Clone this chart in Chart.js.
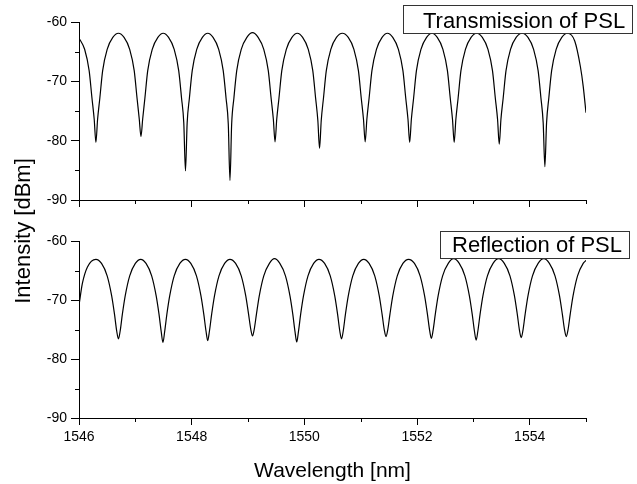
<!DOCTYPE html>
<html>
<head>
<meta charset="utf-8">
<script src="https://cdn.jsdelivr.net/npm/chart.js@4.4.0/dist/chart.umd.min.js"></script>
<style>
  body { margin: 0; background: #fff; }
  #wrap { position: relative; width: 637px; height: 484px; }
  #wrap canvas { position: absolute; left: 0; top: 0; }
</style>
</head>
<body>
<div id="wrap">
  <canvas id="transChart" width="637" height="484"></canvas>
  <canvas id="reflChart" width="637" height="484"></canvas>
</div>
<script>
// one row per fringe
var transWl = [
  1546.00, 1546.10, 1546.18, 1546.23, 1546.27, 1546.30, 1546.33, 1546.37, 1546.42, 1546.50, 1546.60,
  1546.70, 1546.80, 1546.90, 1546.98, 1547.03, 1547.07, 1547.10, 1547.13, 1547.17, 1547.22, 1547.30, 1547.40,
  1547.495, 1547.59, 1547.69, 1547.77, 1547.82, 1547.86, 1547.89, 1547.92, 1547.96, 1548.01, 1548.09, 1548.19,
  1548.285, 1548.38, 1548.48, 1548.56, 1548.61, 1548.65, 1548.68, 1548.71, 1548.75, 1548.80, 1548.88, 1548.98,
  1549.08, 1549.18, 1549.28, 1549.36, 1549.41, 1549.45, 1549.48, 1549.51, 1549.55, 1549.60, 1549.68, 1549.78,
  1549.875, 1549.97, 1550.07, 1550.15, 1550.20, 1550.24, 1550.27, 1550.30, 1550.34, 1550.39, 1550.47, 1550.57,
  1550.675, 1550.78, 1550.88, 1550.96, 1551.01, 1551.05, 1551.08, 1551.11, 1551.15, 1551.20, 1551.28, 1551.38,
  1551.475, 1551.57, 1551.67, 1551.75, 1551.80, 1551.84, 1551.87, 1551.90, 1551.94, 1551.99, 1552.07, 1552.17,
  1552.265, 1552.36, 1552.46, 1552.54, 1552.59, 1552.63, 1552.66, 1552.69, 1552.73, 1552.78, 1552.86, 1552.96,
  1553.06, 1553.16, 1553.26, 1553.34, 1553.39, 1553.43, 1553.46, 1553.49, 1553.53, 1553.58, 1553.66, 1553.76,
  1553.865, 1553.97, 1554.07, 1554.15, 1554.20, 1554.24, 1554.27, 1554.30, 1554.34, 1554.39, 1554.47, 1554.57,
  1554.67, 1554.80, 1554.90, 1554.95, 1555.00
];
var transDb = [
  -62.7, -64.6, -68.2, -72.8, -76.4, -80.3, -76.4, -72.8, -68.2, -64.6, -62.6,
  -61.9, -62.6, -64.6, -68.2, -72.8, -76.4, -79.3, -76.4, -72.8, -68.2, -64.6, -62.6,
  -61.9, -62.6, -64.6, -68.2, -72.8, -77.0, -85.1, -77.0, -72.8, -68.2, -64.6, -62.6,
  -61.9, -62.6, -64.6, -68.2, -72.8, -77.2, -86.7, -77.2, -72.8, -68.2, -64.6, -62.6,
  -61.8, -62.6, -64.6, -68.2, -72.8, -76.4, -80.2, -76.4, -72.8, -68.2, -64.6, -62.6,
  -61.9, -62.6, -64.6, -68.2, -72.8, -76.6, -81.3, -76.6, -72.8, -68.2, -64.6, -62.6,
  -61.9, -62.6, -64.6, -68.2, -72.8, -76.4, -80.2, -76.4, -72.8, -68.2, -64.6, -62.6,
  -61.9, -62.6, -64.6, -68.2, -72.8, -76.4, -80.3, -76.4, -72.8, -68.2, -64.6, -62.6,
  -61.9, -62.6, -64.6, -68.2, -72.8, -76.4, -80.3, -76.4, -72.8, -68.2, -64.6, -62.6,
  -61.9, -62.6, -64.6, -68.2, -72.8, -76.4, -80.6, -76.4, -72.8, -68.2, -64.6, -62.6,
  -61.9, -62.6, -64.6, -68.2, -72.8, -77.0, -84.4, -77.0, -72.8, -68.2, -64.6, -62.6,
  -61.9, -63.2, -67.5, -70.8, -75.3
];

var reflWl = [
  1546.00, 1546.06, 1546.15,
  1546.30, 1546.40, 1546.50, 1546.58, 1546.63, 1546.67, 1546.70, 1546.73, 1546.77, 1546.82, 1546.90, 1547.00,
  1547.095, 1547.19, 1547.29, 1547.37, 1547.42, 1547.46, 1547.49, 1547.52, 1547.56, 1547.61, 1547.69, 1547.79,
  1547.89, 1547.985, 1548.085, 1548.165, 1548.215, 1548.255, 1548.285, 1548.315, 1548.355, 1548.405, 1548.485, 1548.585,
  1548.68, 1548.78, 1548.88, 1548.96, 1549.01, 1549.05, 1549.08, 1549.11, 1549.15, 1549.20, 1549.28, 1549.38,
  1549.47, 1549.565, 1549.665, 1549.745, 1549.795, 1549.835, 1549.865, 1549.895, 1549.935, 1549.985, 1550.065, 1550.165,
  1550.26, 1550.36, 1550.46, 1550.54, 1550.59, 1550.63, 1550.66, 1550.69, 1550.73, 1550.78, 1550.86, 1550.96,
  1551.055, 1551.15, 1551.25, 1551.33, 1551.38, 1551.42, 1551.45, 1551.48, 1551.52, 1551.57, 1551.65, 1551.75,
  1551.85, 1551.955, 1552.055, 1552.135, 1552.185, 1552.225, 1552.255, 1552.285, 1552.325, 1552.375, 1552.455, 1552.555,
  1552.65, 1552.75, 1552.85, 1552.93, 1552.98, 1553.02, 1553.05, 1553.08, 1553.12, 1553.17, 1553.25, 1553.35,
  1553.45, 1553.55, 1553.65, 1553.73, 1553.78, 1553.82, 1553.85, 1553.88, 1553.92, 1553.97, 1554.05, 1554.15,
  1554.25, 1554.35, 1554.45, 1554.53, 1554.58, 1554.62, 1554.65, 1554.68, 1554.72, 1554.77, 1554.85, 1554.95,
  1555.00
];
var reflDb = [
  -70.9, -67.2, -64.4,
  -63.1, -63.8, -65.9, -69.3, -72.4, -75.3, -76.6, -75.3, -72.4, -69.3, -65.9, -63.8,
  -63.1, -63.8, -65.9, -69.3, -72.4, -75.4, -77.2, -75.4, -72.4, -69.3, -65.9, -63.8,
  -63.1, -63.8, -65.9, -69.3, -72.4, -75.3, -76.9, -75.3, -72.4, -69.3, -65.9, -63.8,
  -63.1, -63.8, -65.9, -69.3, -72.4, -75.0, -76.1, -75.0, -72.4, -69.3, -65.9, -63.8,
  -63.0, -63.8, -65.9, -69.3, -72.4, -75.4, -77.1, -75.4, -72.4, -69.3, -65.9, -63.8,
  -63.1, -63.8, -65.9, -69.3, -72.4, -75.3, -76.6, -75.3, -72.4, -69.3, -65.9, -63.8,
  -63.1, -63.8, -65.9, -69.3, -72.4, -75.1, -76.2, -75.1, -72.4, -69.3, -65.9, -63.8,
  -63.1, -63.8, -65.9, -69.3, -72.4, -75.2, -76.5, -75.2, -72.4, -69.3, -65.9, -63.8,
  -63.0, -63.8, -65.9, -69.3, -72.4, -75.3, -76.8, -75.3, -72.4, -69.3, -65.9, -63.8,
  -63.0, -63.8, -65.9, -69.3, -72.4, -75.2, -76.4, -75.2, -72.4, -69.3, -65.9, -63.8,
  -63.0, -63.8, -65.9, -69.3, -72.4, -75.1, -76.2, -75.1, -72.4, -69.3, -65.9, -63.8,
  -63.3
];

var seriesNames = ["Transmission of PSL", "Reflection of PSL"];
var wlRange = [1546, 1555];   // x axis, major tick every 2 nm
var dbRange = [-90, -60];     // y axis, major tick every 10 dB

var FONT = '"Liberation Sans", Arial, sans-serif';
Chart.defaults.font.family = FONT;
Chart.defaults.color = "#000";

function toPoints(wl, db) {
  return wl.map((x, i) => ({ x: x, y: db[i] }));
}

// short ticks halfway between the major ones
const minorTicks = {
  id: "minorTicks",
  afterDraw(chart) {
    const ctx = chart.ctx;
    const xs = chart.scales.x;
    const ys = chart.scales.y;
    const area = chart.chartArea;
    ctx.save();
    ctx.strokeStyle = "#000";
    ctx.lineWidth = 1;
    ctx.beginPath();
    const xStep = xs.options.ticks.stepSize / 2;
    for (let v = xs.min + xStep; v <= xs.max + 1e-9; v += 2 * xStep) {
      const px = Math.round(xs.getPixelForValue(v)) + 0.5;
      ctx.moveTo(px, area.bottom);
      ctx.lineTo(px, area.bottom + 4);
    }
    const yStep = ys.options.ticks.stepSize / 2;
    for (let v = ys.min + yStep; v < ys.max; v += 2 * yStep) {
      const py = Math.round(ys.getPixelForValue(v)) + 0.5;
      ctx.moveTo(area.left - 4, py);
      ctx.lineTo(area.left, py);
    }
    ctx.stroke();
    ctx.restore();
  },
};

// framed label in the upper right corner of each panel
const labelBox = {
  id: "labelBox",
  afterDatasetsDraw(chart, args, opts) {
    if (!opts.text) return;
    const ctx = chart.ctx;
    const b = opts.box;
    ctx.save();
    ctx.fillStyle = "#fff";
    ctx.fillRect(b[0], b[1], b[2] - b[0], b[3] - b[1]);
    ctx.strokeStyle = "#333";
    ctx.lineWidth = 1;
    ctx.strokeRect(b[0] + 0.5, b[1] + 0.5, b[2] - b[0], b[3] - b[1]);
    ctx.fillStyle = "#000";
    ctx.font = "22px " + FONT;
    ctx.textBaseline = "alphabetic";
    ctx.fillText(opts.text, opts.textX, opts.baseline);
    ctx.restore();
  },
};

// one y title shared by both panels
const yTitle = {
  id: "yTitle",
  afterDraw(chart, args, opts) {
    if (!opts.text) return;
    const ctx = chart.ctx;
    ctx.save();
    ctx.translate(opts.x, opts.y);
    ctx.rotate(-Math.PI / 2);
    ctx.textAlign = "center";
    ctx.textBaseline = "middle";
    ctx.font = "22px " + FONT;
    ctx.fillStyle = "#000";
    ctx.fillText(opts.text, 0, 0);
    ctx.restore();
  },
};

function makePanel(id, wl, db, panel) {
  const ctx = document.getElementById(id).getContext("2d");
  return new Chart(ctx, {
    type: "line",
    data: {
      datasets: [
        {
          label: panel.name,
          data: toPoints(wl, db),
          borderColor: "#000",
          borderWidth: 1.2,
          pointRadius: 0,
          fill: false,
          cubicInterpolationMode: "monotone",
        },
      ],
    },
    options: {
      responsive: false,
      animation: false,
      events: [],
      layout: { padding: { left: 0, right: 51, top: panel.top, bottom: 0 } },
      plugins: {
        legend: { display: false },
        tooltip: { enabled: false },
        labelBox: { text: panel.name, box: panel.box, textX: panel.textX, baseline: panel.baseline },
        yTitle: panel.yTitle || {},
      },
      scales: {
        x: {
          type: "linear",
          min: wlRange[0],
          max: wlRange[1],
          border: { display: true, color: "#000", width: 1 },
          grid: { drawOnChartArea: false, drawTicks: true, tickLength: 7, color: "#000" },
          ticks: {
            display: panel.showX,
            stepSize: 2,
            includeBounds: false,
            padding: 4,
            font: { size: 14 },
            callback: (v) => String(v),
          },
          title: {
            display: panel.showX,
            text: "Wavelength [nm]",
            font: { size: 21 },
            padding: { top: 0, bottom: 0 },
          },
          afterFit: (s) => { s.height = panel.xHeight; },
        },
        y: {
          min: dbRange[0],
          max: dbRange[1],
          border: { display: true, color: "#000", width: 1 },
          grid: { drawOnChartArea: false, drawTicks: true, tickLength: 8, color: "#000" },
          ticks: { stepSize: 10, padding: 4, font: { size: 14 } },
          afterFit: (s) => { s.width = 79; },
        },
      },
    },
    plugins: [minorTicks, labelBox, yTitle],
  });
}

makePanel("transChart", transWl, transDb, {
  name: seriesNames[0],
  top: 22,
  xHeight: 284,
  showX: false,
  box: [403, 5, 632, 33],
  textX: 423,
  baseline: 28,
});

makePanel("reflChart", reflWl, reflDb, {
  name: seriesNames[1],
  top: 241,
  xHeight: 66,
  showX: true,
  box: [440, 231, 629, 258],
  textX: 452,
  baseline: 252,
  yTitle: { text: "Intensity [dBm]", x: 24, y: 231 },
});
</script>
</body>
</html>
